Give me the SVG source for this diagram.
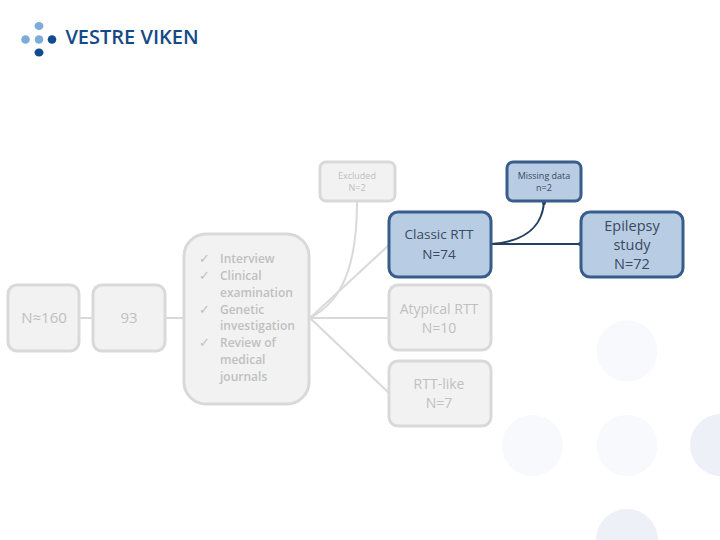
<svg xmlns="http://www.w3.org/2000/svg" width="720" height="540" viewBox="0 0 720 540">
<style>
text{font-family:"Open Sans","Liberation Sans",sans-serif;text-anchor:middle}
.g{fill:#f2f2f2;stroke:#d9d9d9;stroke-width:3}
.b{fill:#b8cce4;stroke:#385d8a;stroke-width:3}
.tg{fill:#c0c0c0}
.tb{fill:#3b4a5c}
.cg{fill:none;stroke:#d9d9d9;stroke-width:2}
.cb{fill:none;stroke:#24405f;stroke-width:2}
.l{font-size:12px;font-weight:600;fill:#c0c0c0;text-anchor:start}
.ck{font-size:13px;fill:#c0c0c0;text-anchor:start;font-family:"DejaVu Sans",sans-serif}
.bg{fill:#f7f9fc}
.bd{fill:#eef0f8}
</style>
<rect width="720" height="540" fill="#fff"/>
<g id="background">
<circle class="bg" cx="627" cy="351" r="30.5"/>
<circle class="bg" cx="532.5" cy="445.5" r="30.5"/>
<circle class="bg" cx="627" cy="445.5" r="30.5"/>
<circle class="bd" cx="721" cy="445" r="31"/>
<circle class="bd" cx="627" cy="540" r="31"/>
</g>
<g id="logo">
<ellipse cx="39" cy="26" rx="4.500" ry="4" fill="#7cacd9"/>
<circle cx="25.500" cy="39.500" r="4.300" fill="#7cacd9"/>
<circle cx="39" cy="39.500" r="4.300" fill="#7cacd9"/>
<circle cx="52" cy="39.500" r="4.300" fill="#0f4c8f"/>
<ellipse cx="39" cy="52.500" rx="4.500" ry="4" fill="#0f4c8f"/>
<text x="132" y="43.500" style="font-family:'Open Sans','Liberation Sans',sans-serif;font-size:20px;font-weight:600;fill:#134a87">VESTRE VIKEN</text>
</g>
<g id="connectors">
<path class="cg" d="M79 318H93"/>
<path class="cg" d="M165 318H184"/>
<path class="cg" d="M310 318C345 300 357 260 357 202"/>
<path class="cg" d="M310 318L389 245"/>
<path class="cg" d="M310 318H389"/>
<path class="cg" d="M310 318L389 393"/>
<path class="cb" d="M491 244C520 242 542 230 544 202"/>
<path class="cb" d="M491 244H581"/>
<circle cx="544" cy="203" r="2" fill="#24405f"/>
<circle cx="580" cy="244" r="2" fill="#24405f"/>
</g>
<g id="n160"><rect class="g" x="8" y="285" width="71" height="66" rx="9"/><text class="tg" x="44" y="323" font-size="15">N≈160</text></g>
<g id="n93"><rect class="g" x="93" y="285" width="72" height="66" rx="9"/><text class="tg" x="129" y="323" font-size="15">93</text></g>
<g id="methods"><rect class="g" x="184" y="234" width="125" height="170" rx="22"/>
<text class="ck" x="199" y="263">✓</text><text class="l" x="220" y="263">Interview</text>
<text class="ck" x="199" y="280">✓</text><text class="l" x="220" y="280">Clinical</text>
<text class="l" x="220" y="297">examination</text>
<text class="ck" x="199" y="314">✓</text><text class="l" x="220" y="314">Genetic</text>
<text class="l" x="220" y="330">investigation</text>
<text class="ck" x="199" y="347">✓</text><text class="l" x="220" y="347">Review of</text>
<text class="l" x="220" y="364">medical</text>
<text class="l" x="220" y="381">journals</text>
</g>
<g id="excluded"><rect class="g" x="320" y="162" width="75" height="39" rx="6"/><text class="tg" x="357" y="179" font-size="9">Excluded</text><text class="tg" x="357" y="191" font-size="9">N=2</text></g>
<g id="missing"><rect class="b" x="507" y="162" width="74" height="39" rx="6"/><text class="tb" x="544" y="179" font-size="9">Missing data</text><text class="tb" x="544" y="191" font-size="9">n=2</text></g>
<g id="classic"><rect class="b" x="389" y="212" width="102" height="65" rx="9"/><text class="tb" x="439" y="239" font-size="13.500">Classic RTT</text><text class="tb" x="439" y="259" font-size="13.500">N=74</text></g>
<g id="epilepsy"><rect class="b" x="581" y="212" width="102" height="65" rx="9"/><text class="tb" x="632" y="231" font-size="14.500">Epilepsy</text><text class="tb" x="632" y="250" font-size="14.500">study</text><text class="tb" x="632" y="269" font-size="14.500">N=72</text></g>
<g id="atypical"><rect class="g" x="389" y="285" width="102" height="65" rx="9"/><text class="tg" x="439" y="314" font-size="14">Atypical RTT</text><text class="tg" x="439" y="333" font-size="14">N=10</text></g>
<g id="rttlike"><rect class="g" x="389" y="361" width="102" height="65" rx="9"/><text class="tg" x="439" y="389" font-size="14">RTT-like</text><text class="tg" x="439" y="408" font-size="14">N=7</text></g>
</svg>
